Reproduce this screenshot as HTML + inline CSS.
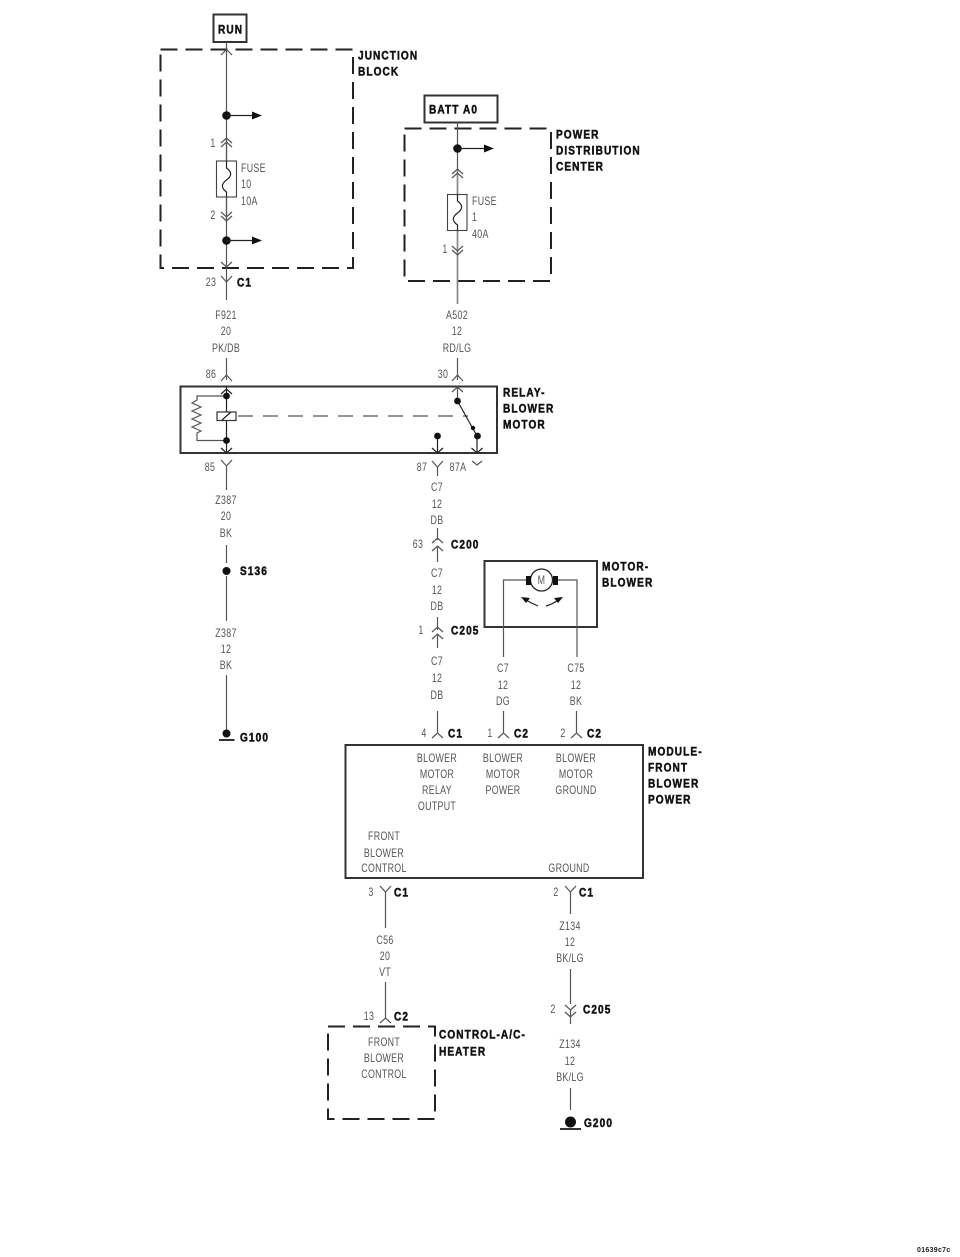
<!DOCTYPE html>
<html><head><meta charset="utf-8">
<style>
html,body{margin:0;padding:0;background:#fff;width:960px;height:1257px;overflow:hidden}
svg{display:block;filter:blur(.35px)}
.t{font:11.5px "Liberation Sans",sans-serif;fill:#555;text-anchor:middle;transform-box:fill-box;transform-origin:center;transform:scaleX(.77);letter-spacing:.4px}
.l{text-anchor:start;transform-origin:left center}
.b{font:bold 12px "Liberation Sans",sans-serif;fill:#111;stroke:#111;stroke-width:.5;letter-spacing:1.3px;transform-box:fill-box;transform-origin:left center;transform:scaleX(.84)}
.w{fill:none;stroke:#555;stroke-width:1.2}
.k{fill:none;stroke:#222;stroke-width:1.2}
.x{fill:none;stroke:#333;stroke-width:2}
.d{fill:none;stroke:#222;stroke-width:2;stroke-dasharray:17 8}
.f{fill:#111;stroke:none}
</style></head><body>
<svg width="960" height="1257" viewBox="0 0 960 1257" xmlns="http://www.w3.org/2000/svg">
<rect width="960" height="1257" fill="#fff"/>

<!-- Boxes -->
<rect class="x" x="213.500" y="14.500" width="33" height="27.500"/>
<rect class="x" x="424.500" y="95.500" width="73" height="27"/>
<rect class="d" x="160.500" y="49.500" width="192.500" height="218.500"/>
<rect class="d" x="404.500" y="128.500" width="146.500" height="152.500"/>
<rect class="x" x="180.500" y="386.500" width="316.500" height="66.500"/>
<rect class="x" x="484.500" y="561" width="112.500" height="66"/>
<rect class="x" x="345.500" y="745" width="297.500" height="133"/>
<rect class="d" x="328" y="1026.500" width="107" height="92.500"/>

<!-- Junction block wiring -->
<path class="w" d="M226.500 42V300M221 55L226.500 49.500L232 55M221 143L226.500 138L232 143M221 147L226.500 142L232 147M221 212L226.500 217L232 212M221 216L226.500 221L232 216M221 262L226.500 267L232 262"/>
<rect x="216.500" y="161" width="20" height="36" fill="#fff" stroke="#444" stroke-width="1.100"/>
<path class="k" d="M226.500 161V168C232 172 232 176 226.500 180C221 184 221 188 226.500 192V197"/>
<path class="w" d="M226.500 138V161M226.500 197V222"/>
<circle class="f" cx="226.500" cy="115.500" r="4.300"/><circle class="f" cx="226.500" cy="240.500" r="4.300"/>
<path class="k" d="M226.500 115.500H253M226.500 240.500H253"/>
<path class="f" d="M252 111.500L262 115.500L252 119.500ZM252 236.500L262 240.500L252 244.500Z"/>
<path class="w" d="M221 276L226.500 282L232 276"/>

<!-- PDC wiring -->
<path class="w" d="M457.500 122.500V304"/>
<path d="M457.500 170V304" fill="none" stroke="#888" stroke-width="1.600"/>
<path class="w" d="M452 174L457.500 169L463 174M452 178L457.500 173L463 178M452 246L457.500 251L463 246M452 250L457.500 255L463 250"/>
<rect x="447.500" y="194.500" width="19.500" height="36" fill="#fff" stroke="#444" stroke-width="1.100"/>
<path class="k" d="M457.500 194.500V201C463 205 463 209 457.500 213C452 217 452 221 457.500 225V230.500"/>
<circle class="f" cx="457.500" cy="148.500" r="4.300"/>
<path class="k" d="M457.500 148.500H485"/>
<path class="f" d="M484 144.500L494 148.500L484 152.500Z"/>

<!-- Wires to relay -->
<path class="w" d="M226.500 358V380M221 381L226.500 375L232 381M457.500 358V380M452 381L457.500 375L463 381"/>

<!-- Relay internals -->
<path class="k" d="M226.500 386V453M221 394L226.500 389L232 394M221 448L226.500 453L232 448"/>
<path class="w" d="M226.500 396H197V400L192 403L201 407L192 411L201 415L192 419L201 423L192 427L201 431L197 433V440.500H226.500"/>
<circle class="f" cx="226.500" cy="396" r="3.400"/><circle class="f" cx="226.500" cy="440.500" r="3.400"/>
<rect x="217" y="412" width="19" height="8.500" fill="#fff" stroke="#333" stroke-width="1.200"/>
<path class="k" d="M222 420L231 412"/>
<path d="M237 416H468" fill="none" stroke="#555" stroke-width="1.200" stroke-dasharray="15 10" stroke-dashoffset="-1"/>
<path class="w" d="M457.500 386V401M452 392L457.500 387L463 392"/>
<path class="k" d="M457.500 401L477 436V453M437.500 436V453M432 448L437.500 453L443 448M471.500 448L477 453L482.500 448"/>
<circle class="f" cx="457.500" cy="401" r="3.400"/><circle class="f" cx="473" cy="428" r="2.200"/><circle class="f" cx="477.500" cy="436" r="3.400"/><circle class="f" cx="437.500" cy="436" r="3.400"/>

<!-- Below relay, left -->
<path class="w" d="M221 460L226.500 466L232 460M226.500 466V490M226.500 545V563M226.500 576V621M226.500 675V730"/>
<circle class="f" cx="226.500" cy="571" r="4"/>
<circle class="f" cx="226.500" cy="733.500" r="4"/>
<path class="x" d="M219 740H234.500"/>

<!-- Below relay, center -->
<path class="w" d="M432 461L437.500 467L443 461M437.500 467V476M472 461L477 465L482 461"/>
<path class="w" d="M437.500 528V540M432 543L437.500 538L443 543M432 551L437.500 546L443 551M437.500 546V562M437.500 617V630M432 632L437.500 627L443 632M432 639L437.500 634L443 639M437.500 634V648"/>
<path class="w" d="M437.500 711V733M432 738L437.500 733L443 738M503.500 711V733M498 738L503.500 733L509 738M576.500 711V733M571 738L576.500 733L582 738"/>

<!-- Motor -->
<path class="w" d="M527 580H503.500V657M556 580H577V657"/>
<circle cx="541.500" cy="580" r="11" fill="#fff" stroke="#222" stroke-width="1.300"/>
<rect class="f" x="526" y="576" width="5" height="9"/>
<rect class="f" x="553" y="576" width="5" height="9"/>
<path class="k" d="M538 606Q531 603 526 600M546 606Q553 604 558 600"/>
<path class="f" d="M521 597L530 598L526 603ZM563 597L554 598L558 603Z"/>

<!-- Below module -->
<path class="w" d="M380 886L385.500 892L391 886M385.500 892V928M385.500 982V1018M380 1023L385.500 1018L391 1023"/>
<path class="w" d="M565 886L570.500 892L576 886M570.500 892V914M570.500 969V1004M565 1005L570.500 1010L576 1005M565 1012L570.500 1017L576 1012M570.500 1010V1024M570.500 1088V1110"/>
<circle class="f" cx="570.500" cy="1122" r="5.500"/>
<path class="x" d="M560 1129H581"/>

<!-- Bold labels -->
<text class="b" x="218" y="33.500">RUN</text>
<text class="b" x="358" y="59.500">JUNCTION</text>
<text class="b" x="358" y="75.500">BLOCK</text>
<text class="b" x="429" y="113.500">BATT A0</text>
<text class="b" x="556" y="138.500">POWER</text>
<text class="b" x="556" y="154.500">DISTRIBUTION</text>
<text class="b" x="556" y="170.500">CENTER</text>
<text class="b" x="237" y="286.500">C1</text>
<text class="b" x="503" y="396.500">RELAY-</text>
<text class="b" x="503" y="412.500">BLOWER</text>
<text class="b" x="503" y="428.500">MOTOR</text>
<text class="b" x="451" y="548.500">C200</text>
<text class="b" x="240" y="575">S136</text>
<text class="b" x="602" y="570.500">MOTOR-</text>
<text class="b" x="602" y="586.500">BLOWER</text>
<text class="b" x="451" y="634.500">C205</text>
<text class="b" x="240" y="741.500">G100</text>
<text class="b" x="448" y="737.500">C1</text>
<text class="b" x="514" y="737.500">C2</text>
<text class="b" x="587" y="737.500">C2</text>
<text class="b" x="648" y="755.500">MODULE-</text>
<text class="b" x="648" y="771.500">FRONT</text>
<text class="b" x="648" y="787.500">BLOWER</text>
<text class="b" x="648" y="803.500">POWER</text>
<text class="b" x="394" y="896.500">C1</text>
<text class="b" x="579" y="896.500">C1</text>
<text class="b" x="583" y="1013.500">C205</text>
<text class="b" x="394" y="1020.500">C2</text>
<text class="b" x="439" y="1038.500">CONTROL-A/C-</text>
<text class="b" x="439" y="1055.500">HEATER</text>
<text class="b" x="584" y="1127">G200</text>
<text x="917" y="1252" style="font:bold 7px 'Liberation Sans',sans-serif;fill:#222;letter-spacing:.3px">01639c7c</text>

<!-- Thin labels -->
<text class="t l" x="241" y="172">FUSE</text>
<text class="t l" x="241" y="188">10</text>
<text class="t l" x="241" y="205">10A</text>
<text class="t" x="213" y="147">1</text>
<text class="t" x="213" y="219">2</text>
<text class="t" x="211" y="286">23</text>
<text class="t" x="226" y="319">F921</text>
<text class="t" x="226" y="335">20</text>
<text class="t" x="226" y="352">PK/DB</text>
<text class="t l" x="472" y="205">FUSE</text>
<text class="t l" x="472" y="221">1</text>
<text class="t l" x="472" y="238">40A</text>
<text class="t" x="445" y="253">1</text>
<text class="t" x="457" y="319">A502</text>
<text class="t" x="457" y="335">12</text>
<text class="t" x="457" y="352">RD/LG</text>
<text class="t" x="211" y="378">86</text>
<text class="t" x="443" y="378">30</text>
<text class="t" x="210" y="471">85</text>
<text class="t" x="422" y="471">87</text>
<text class="t" x="458" y="471">87A</text>
<text class="t" x="226" y="504">Z387</text>
<text class="t" x="226" y="520">20</text>
<text class="t" x="226" y="537">BK</text>
<text class="t" x="226" y="637">Z387</text>
<text class="t" x="226" y="653">12</text>
<text class="t" x="226" y="669">BK</text>
<text class="t" x="437" y="491">C7</text>
<text class="t" x="437" y="508">12</text>
<text class="t" x="437" y="524">DB</text>
<text class="t" x="418" y="548">63</text>
<text class="t" x="437" y="577">C7</text>
<text class="t" x="437" y="594">12</text>
<text class="t" x="437" y="610">DB</text>
<text class="t" x="421" y="634">1</text>
<text class="t" x="437" y="665">C7</text>
<text class="t" x="437" y="682">12</text>
<text class="t" x="437" y="699">DB</text>
<text class="t" x="541.500" y="584">M</text>
<text class="t" x="503" y="672">C7</text>
<text class="t" x="503" y="689">12</text>
<text class="t" x="503" y="705">DG</text>
<text class="t" x="576" y="672">C75</text>
<text class="t" x="576" y="689">12</text>
<text class="t" x="576" y="705">BK</text>
<text class="t" x="424" y="737">4</text>
<text class="t" x="490" y="737">1</text>
<text class="t" x="563" y="737">2</text>
<text class="t" x="437" y="762">BLOWER</text>
<text class="t" x="437" y="778">MOTOR</text>
<text class="t" x="437" y="794">RELAY</text>
<text class="t" x="437" y="810">OUTPUT</text>
<text class="t" x="503" y="762">BLOWER</text>
<text class="t" x="503" y="778">MOTOR</text>
<text class="t" x="503" y="794">POWER</text>
<text class="t" x="576" y="762">BLOWER</text>
<text class="t" x="576" y="778">MOTOR</text>
<text class="t" x="576" y="794">GROUND</text>
<text class="t" x="384" y="840">FRONT</text>
<text class="t" x="384" y="857">BLOWER</text>
<text class="t" x="384" y="872">CONTROL</text>
<text class="t" x="569" y="872">GROUND</text>
<text class="t" x="371" y="896">3</text>
<text class="t" x="556" y="896">2</text>
<text class="t" x="385" y="944">C56</text>
<text class="t" x="385" y="960">20</text>
<text class="t" x="385" y="976">VT</text>
<text class="t" x="570" y="930">Z134</text>
<text class="t" x="570" y="946">12</text>
<text class="t" x="570" y="962">BK/LG</text>
<text class="t" x="553" y="1013">2</text>
<text class="t" x="369" y="1020">13</text>
<text class="t" x="384" y="1046">FRONT</text>
<text class="t" x="384" y="1062">BLOWER</text>
<text class="t" x="384" y="1078">CONTROL</text>
<text class="t" x="570" y="1048">Z134</text>
<text class="t" x="570" y="1065">12</text>
<text class="t" x="570" y="1081">BK/LG</text>
</svg>
</body></html>
